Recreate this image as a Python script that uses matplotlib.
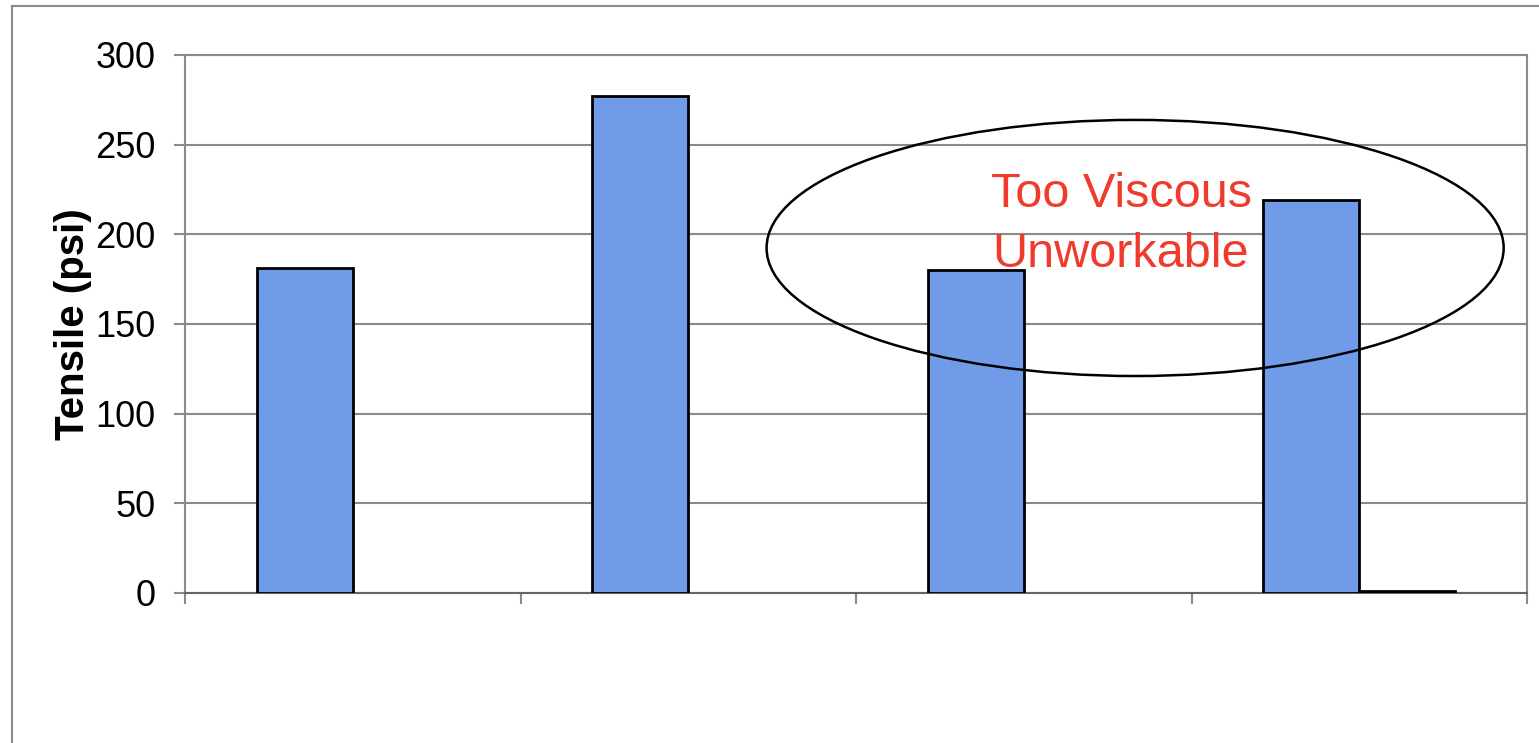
import matplotlib.pyplot as plt
from matplotlib.patches import Ellipse
from matplotlib.lines import Line2D
import numpy as np

plt.rcParams['font.family'] = ['Liberation Sans', 'DejaVu Sans']

categorias = ["1", "2", "3", "4"]
tensile = [181, 277, 180, 219]
serie2 = [0, 0, 0, 1]
y_ticks = [0, 50, 100, 150, 200, 250, 300]

azul = "#6f9be9"
gris = "#8a8a8a"
rojo = "#f03a2c"


def dibujar():
    fig = plt.figure(figsize=(15.39, 7.43), dpi=100)
    ax = fig.add_axes([185 / 1539, 1 - 593 / 743, 1342 / 1539, 538 / 743])

    x = np.arange(len(categorias))
    ancho = 0.286
    ax.bar(x - ancho / 2, tensile, ancho, color=azul, edgecolor="black", linewidth=2, zorder=3)
    # las barras en cero no se ven en el original
    bordes = ["black" if v > 0 else "none" for v in serie2]
    ax.bar(x + ancho / 2, serie2, ancho, color="#222222", edgecolor=bordes, linewidth=2, zorder=3)

    ax.set_xlim(-0.5, len(categorias) - 0.5)
    ax.set_ylim(0, 300)
    ax.set_yticks(y_ticks)
    ax.set_xticks([])
    ax.set_xticks(np.arange(-0.5, len(categorias)), minor=True)
    ax.tick_params(axis="x", which="minor", length=8, color=gris, width=1.5, labelbottom=False)
    ax.tick_params(axis="y", length=8, color=gris, width=1.5, labelsize=26, pad=13)
    ax.grid(axis="y", color=gris, linewidth=1.5, zorder=0)
    for lado in ["left", "right", "top", "bottom"]:
        ax.spines[lado].set_color(gris)
        ax.spines[lado].set_linewidth(1.5)
    ax.spines["bottom"].set_color("#666666")

    ax.set_ylabel("Tensile (psi)", fontsize=29, fontweight="bold")
    ax.yaxis.set_label_coords(-0.069, 0.5)

    # ovalo de anotacion
    elipse = Ellipse((2.332, 192.4), 2.197, 142.8, fill=False, edgecolor="black",
                     linewidth=1.8, zorder=4, clip_on=False)
    ax.add_patch(elipse)
    ax.text(2.29, 222, "Too Viscous", color=rojo, fontsize=35, ha="center", va="center", zorder=5)
    ax.text(2.29, 189, "Unworkable", color=rojo, fontsize=35, ha="center", va="center", zorder=5)

    # marco exterior
    fig.add_artist(Line2D([12 / 1539, 12 / 1539], [0, 1 - 6 / 743], color=gris, linewidth=1.5))
    fig.add_artist(Line2D([12 / 1539, 1], [1 - 6 / 743, 1 - 6 / 743], color=gris, linewidth=1.5))

    fig.savefig("out.png", dpi=100)


if __name__ == "__main__":
    dibujar()
